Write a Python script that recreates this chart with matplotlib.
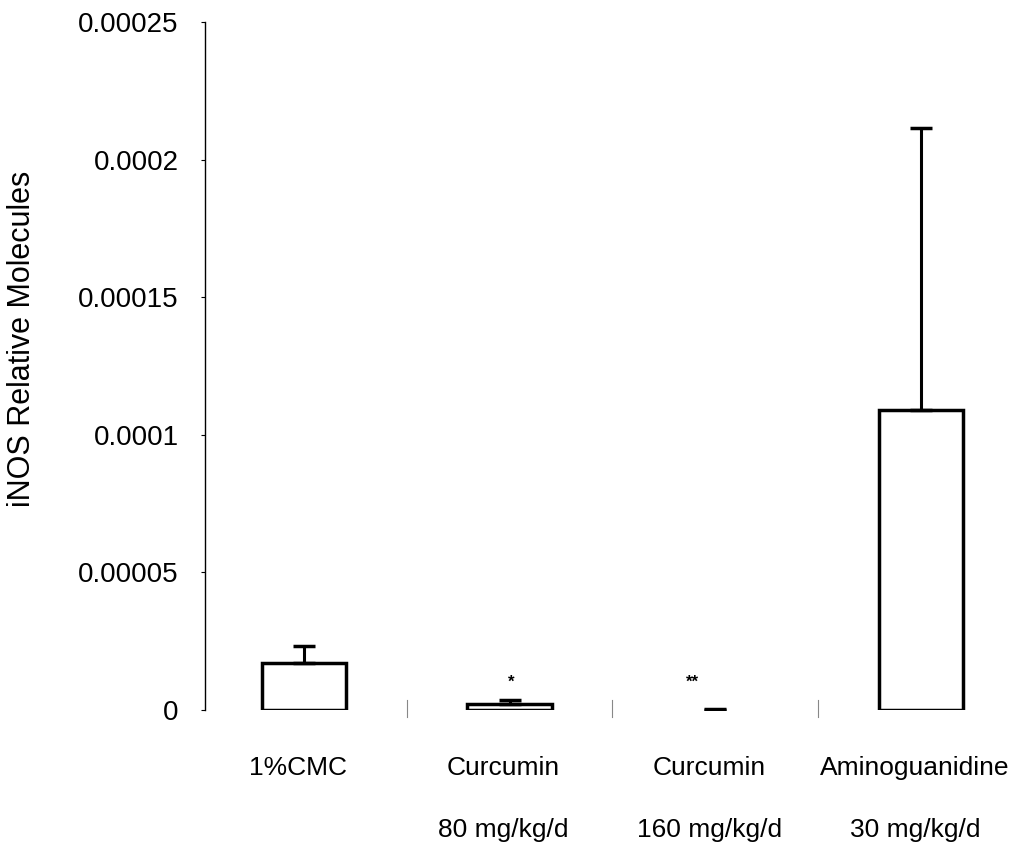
import matplotlib
matplotlib.use("Agg")
import matplotlib.pyplot as plt
import numpy as np

categories = ["1%CMC", "Curcumin", "Curcumin", "Aminoguanidine"]
doses = ["", "80 mg/kg/d", "160 mg/kg/d", "30 mg/kg/d"]
values = [1.71e-5, 2.2e-6, 0.0, 1.09e-4]
errors = [0.62e-5, 1.6e-6, 0.4e-6, 1.025e-4]
sig_marks = ["", "*", "**", ""]
sig_x = [0, 1.01, 1.89, 3]
sig_y = [0, 1.0e-5, 1.0e-5, 0]
yticks = [0, 0.00005, 0.0001, 0.00015, 0.0002, 0.00025]
ytick_labels = ["0", "0.00005", "0.0001", "0.00015", "0.0002", "0.00025"]
ylabel = "iNOS Relative Molecules"

plt.rcParams['font.family'] = ['Liberation Sans', 'DejaVu Sans']

fig = plt.figure(figsize=(10.24, 8.43), dpi=100)
ax = fig.add_axes([205/1024, (843-710)/843, (1024-205)/1024, (710-22)/843])

x = np.arange(len(categories))
bars = ax.bar(x, values, width=0.41, color="white", edgecolor="black", linewidth=2.5, zorder=2)
for b, v in zip(bars, values):
    if v == 0:
        b.set_edgecolor("none")
ax.errorbar(x, values, yerr=[np.zeros(len(values)), errors], fmt="none",
            ecolor="black", elinewidth=2.2, capsize=8, capthick=2.5, zorder=3)

for sx, sy, m in zip(sig_x, sig_y, sig_marks):
    if m:
        ax.text(sx, sy, m, ha="center", va="center", fontsize=12, fontweight="bold")

ax.set_xlim(-0.48, 3.5)
ax.set_ylim(0, 0.00025)
ax.set_yticks(yticks)
ax.set_yticklabels(ytick_labels)
ax.tick_params(axis="y", direction="out", length=3, width=0.8, labelsize=20, pad=16)
ax.set_xticks([])
for s in ["top", "right", "bottom"]:
    ax.spines[s].set_visible(False)
ax.spines["left"].set_linewidth(1.0)

# faint category separator marks
for bx in [0.5, 1.5, 2.5]:
    ax.plot([bx, bx], [-0.25e-5, 0.35e-5], color="#888888", lw=0.8, clip_on=False)

trans = ax.get_xaxis_transform()
for xi, c, d in zip(x, categories, doses):
    ax.text(xi - 0.03, -0.085, c, transform=trans, ha="center", va="center", fontsize=19)
    if d:
        ax.text(xi - 0.03, -0.175, d, transform=trans, ha="center", va="center", fontsize=19)

fig.text(22/1024, 1 - 339/843, ylabel, rotation=90, ha="center", va="center", fontsize=22)

fig.savefig("out.png", dpi=100, facecolor="white")
